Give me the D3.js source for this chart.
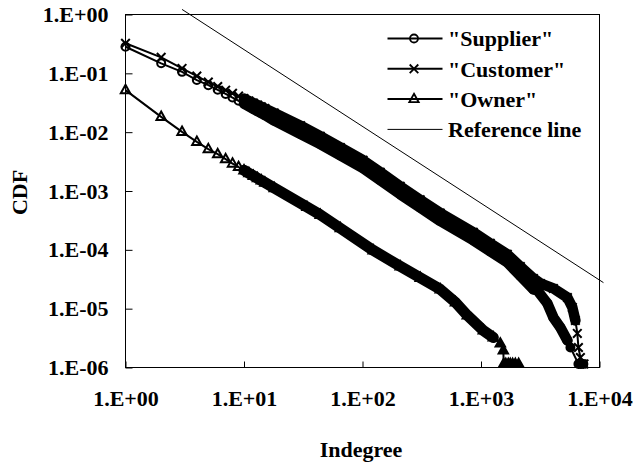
<!DOCTYPE html>
<html><head><meta charset="utf-8">
<script src="https://cdn.jsdelivr.net/npm/d3@7"></script>
<style>
body{margin:0;background:#fff}
svg{display:block}
text{font-family:"Liberation Serif","Times New Roman",serif;font-weight:bold;font-size:22px;fill:#000}
</style>
</head><body><svg id="c" width="635" height="466"></svg>
<script>
// ---- data ----
const xTickValues = [1, 10, 100, 1000, 10000];
const xTickLabels = ["1.E+00", "1.E+01", "1.E+02", "1.E+03", "1.E+04"];
const yTickValues = [1, 0.1, 0.01, 0.001, 1e-4, 1e-5, 1e-6];
const yTickLabels = ["1.E+00", "1.E-01", "1.E-02", "1.E-03", "1.E-04", "1.E-05", "1.E-06"];
const seriesNames = ['"Supplier"', '"Customer"', '"Owner"', 'Reference line'];
const xTitle = "Indegree";
const yTitle = "CDF";

const supplierX = [1,2,3,4,5,6,7,8,9,10,11,12,13,14,15,18,30,44,65,101,141,208,307,453,861,1197,1667,2148,2767,2987,3630,4080,4675,5360,5685,6640,7000,7310];
const supplierY = [0.283,0.148,0.106,0.0768,0.063,0.0525,0.0446,0.0388,0.0342,0.0306,0.0275,0.0249,0.0228,0.0210,0.0195,0.0157,0.0093,0.00625,0.00403,0.00244,0.00153,0.00088,0.00052,0.000309,0.000145,0.000094,0.000061,0.000036,0.0000213,0.0000205,0.0000123,0.0000071,0.0000048,0.00000288,0.00000219,0.00000115,0.00000115,0.00000115];

const customerX = [1,2,3,4,5,6,7,8,9,10,11,12,13,14,15,18,30,44,65,101,141,208,307,453,861,1197,1667,2148,2767,3170,4080,5360,5900,6260,6500,6640,6900,7170,7400];
const customerY = [0.324,0.187,0.121,0.0898,0.071,0.0597,0.0518,0.0459,0.0411,0.0372,0.0340,0.0313,0.0290,0.0270,0.0253,0.0212,0.0129,0.00855,0.00551,0.00334,0.00209,0.00120,0.00071,0.000423,0.000199,0.000129,0.000084,0.000052,0.0000327,0.0000269,0.0000221,0.0000155,0.0000105,0.0000063,0.00000379,0.00000219,0.00000148,0.00000115,0.00000115];

const ownerX = [1,2,3,4,5,6,7,8,9,10,11,12,13,14,15,18,34,44,65,123,208,307,453,609,766,1046,1270,1455,1543,1555,1620,1700,1767,1850,1950,2080];
const ownerY = [0.0519,0.0182,0.0101,0.00684,0.00514,0.00422,0.00347,0.00293,0.00256,0.00225,0.00201,0.00181,0.00165,0.00151,0.00139,0.00112,0.000535,0.000394,0.000233,0.000098,0.0000524,0.0000334,0.0000213,0.0000128,0.0000077,0.00000427,0.00000324,0.00000256,0.00000195,0.00000115,0.00000115,0.00000115,0.00000115,0.00000115,0.00000115,0.00000115];

const refX = [3, 10800];
const refY = [1.22, 0.0000277];

// ---- chart ----
const svg = d3.select("#c");
const x = d3.scaleLog().domain([1, 1e4]).range([125.5, 599.5]);
const y = d3.scaleLog().domain([1e-6, 1]).range([367.5, 14.5]);

const zip = (xs, ys) => xs.map((v, i) => ({x: v, y: ys[i]}));
const series = [
  {name: seriesNames[0], data: zip(supplierX, supplierY), marker: "circle", bandStart: 10, bandEnd: 5360, bw: 10.5},
  {name: seriesNames[1], data: zip(customerX, customerY), marker: "cross", bandStart: 10, bandEnd: 6260, bw: 10.5},
  {name: seriesNames[2], data: zip(ownerX, ownerY), marker: "triangle", bandStart: 10, bandEnd: 1270, bw: 11}
];

function markerPath(type, cx, cy) {
  if (type === "circle") {
    const r = 4;
    return `M${cx - r},${cy}a${r},${r} 0 1,0 ${2 * r},0a${r},${r} 0 1,0 ${-2 * r},0Z`;
  }
  if (type === "cross") {
    const s = 4.3;
    return `M${cx - s},${cy - s}L${cx + s},${cy + s}M${cx - s},${cy + s}L${cx + s},${cy - s}`;
  }
  return `M${cx},${cy - 5.3}L${cx + 4.7},${cy + 3.1}L${cx - 4.7},${cy + 3.1}Z`;
}

// box
svg.append("rect").attr("x", 125.5).attr("y", 14.5).attr("width", 474).attr("height", 353)
  .attr("fill", "none").attr("stroke", "#000").attr("stroke-width", 1);

// axes
const gy = svg.append("g").attr("transform", "translate(125.5,0)")
  .call(d3.axisLeft(y).tickValues(yTickValues).tickSize(-7).tickPadding(17)
    .tickFormat((d, i) => yTickLabels[i]));
const gx = svg.append("g").attr("transform", "translate(0,367.5)")
  .call(d3.axisBottom(x).tickValues(xTickValues).tickSize(-6).tickPadding(22.6)
    .tickFormat((d, i) => xTickLabels[i]));
[gx, gy].forEach(g => {
  g.attr("font-family", null).attr("font-size", null);
  g.select(".domain").remove();
  g.selectAll("line").attr("stroke", "#000").attr("stroke-width", 1);
});

// titles
svg.append("text").attr("x", 361).attr("y", 456.5).attr("text-anchor", "middle").text(xTitle);
svg.append("text").attr("transform", "translate(26.5,192.5) rotate(-90)").attr("text-anchor", "middle").text(yTitle);

// series
const line = d3.line().x(d => x(d.x)).y(d => y(d.y));
series.forEach(s => {
  svg.append("path").attr("d", line(s.data)).attr("fill", "none")
    .attr("stroke", "#000").attr("stroke-width", 2).attr("stroke-linejoin", "round");
  const band = s.data.filter(d => d.x >= s.bandStart && d.x <= s.bandEnd);
  svg.append("path").attr("d", line(band)).attr("fill", "none")
    .attr("stroke", "#000").attr("stroke-width", s.bw)
    .attr("stroke-linejoin", "round").attr("stroke-linecap", "round");
  svg.append("g").selectAll("path").data(s.data).join("path")
    .attr("d", d => markerPath(s.marker, x(d.x), y(d.y)))
    .attr("fill", d => (s.marker === "cross" || d.x < s.bandStart) ? "none" : "#000")
    .attr("stroke", "#000").attr("stroke-width", 2);
});

// reference line
svg.append("path").attr("d", line(zip(refX, refY))).attr("fill", "none")
  .attr("stroke", "#000").attr("stroke-width", 1);

// legend
const lg = svg.append("g");
const rowY = i => 38.5 + i * 30.3;
series.forEach((s, i) => {
  const yy = rowY(i);
  lg.append("line").attr("x1", 387.5).attr("x2", 442.5).attr("y1", yy).attr("y2", yy)
    .attr("stroke", "#000").attr("stroke-width", 2);
  lg.append("path").attr("d", markerPath(s.marker, 414, yy)).attr("fill", "none")
    .attr("stroke", "#000").attr("stroke-width", 1.8);
  lg.append("text").attr("x", 448).attr("y", yy).attr("dy", "0.35em").text(s.name);
});
lg.append("line").attr("x1", 387.5).attr("x2", 442.5).attr("y1", rowY(3)).attr("y2", rowY(3))
  .attr("stroke", "#000").attr("stroke-width", 1);
lg.append("text").attr("x", 448).attr("y", rowY(3)).attr("dy", "0.35em").text(seriesNames[3]);
</script>
</body></html>
